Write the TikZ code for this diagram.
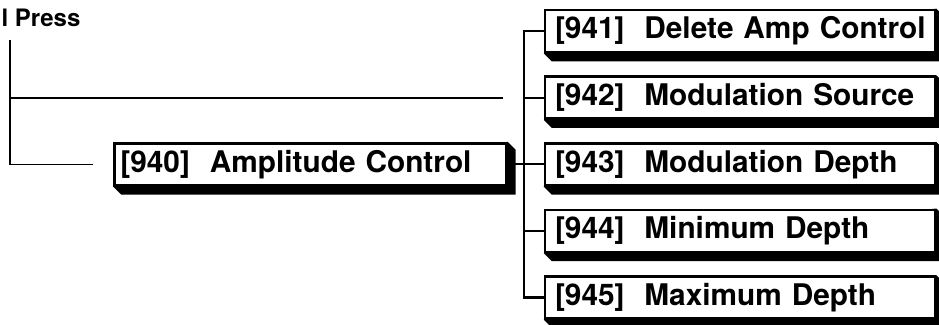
\documentclass[tikz,border=0pt]{standalone}
\usepackage{fontspec}
\setmainfont{TeX Gyre Heros}
\usetikzlibrary{positioning,calc,backgrounds}
\tikzset{
  node distance=22pt and 36pt,
  menu/.style={draw=black, line width=2.6pt, fill=white,
               font=\fontsize{29.8}{34}\selectfont\bfseries, align=left,
               minimum height=42pt, text width=370pt, inner xsep=10pt},
  wire/.style={line width=2.2pt},
  lead/.style={line width=1.3pt},
  drop/.style={fill=black},
}
% black drop shadow on the right and lower side of a box
\newcommand{\boxdrop}[1]{%
  \fill[drop] (#1.north east) -- ($(#1.north east)+(8,8)$) -- ($(#1.south east)+(8,8)$)
    -- ($(#1.south west)+(8,8)$) -- (#1.south west) -- cycle;}
\begin{document}
\begin{tikzpicture}[x=1pt,y=-1pt]
  \useasboundingbox (0,0) rectangle (939,324);
  \node[anchor=base west, font=\fontsize{24}{28}\selectfont\bfseries] (press) at (-2,26) {l Press};

  \node[menu] (m941) at (740,31) {\mbox{[941]\ \ Delete Amp Control}};
  \node[menu, below=of m941] (m942) {\mbox{[942]\ \ Modulation Source}};
  \node[menu, below=of m942] (m943) {\mbox{[943]\ \ Modulation Depth}};
  \node[menu, below=of m943] (m944) {\mbox{[944]\ \ Minimum Depth}};
  \node[menu, below=of m944] (m945) {\mbox{[945]\ \ Maximum Depth}};
  \node[menu, text width=380pt, inner xsep=6pt, left=of m943] (amp) {\mbox{[940]\ \ Amplitude Control}};

  \begin{scope}[on background layer]
    \foreach \b in {m941,m942,m943,m944,m945,amp} {\boxdrop{\b}}
  \end{scope}

  % tree to the sub menus
  \draw[wire] (m941.west) -- ++(-20,0) |- (m945.west);
  \foreach \b in {m942,m943,m944} {\draw[wire] (\b.west) -- ++(-20,0);}
  \begin{scope}[on background layer]
    \draw[wire] (amp.east) -- ($(m943.west)+(-20,0)$);
  \end{scope}

  % leads from the press menu
  \coordinate (top) at (10,40);
  \coordinate (mid) at (503,98);
  \coordinate (ampin) at ($(amp.west)+(-20,0)$);
  \draw[lead] (top) |- (mid);
  \draw[lead] (top) |- (ampin);
\end{tikzpicture}
\end{document}
